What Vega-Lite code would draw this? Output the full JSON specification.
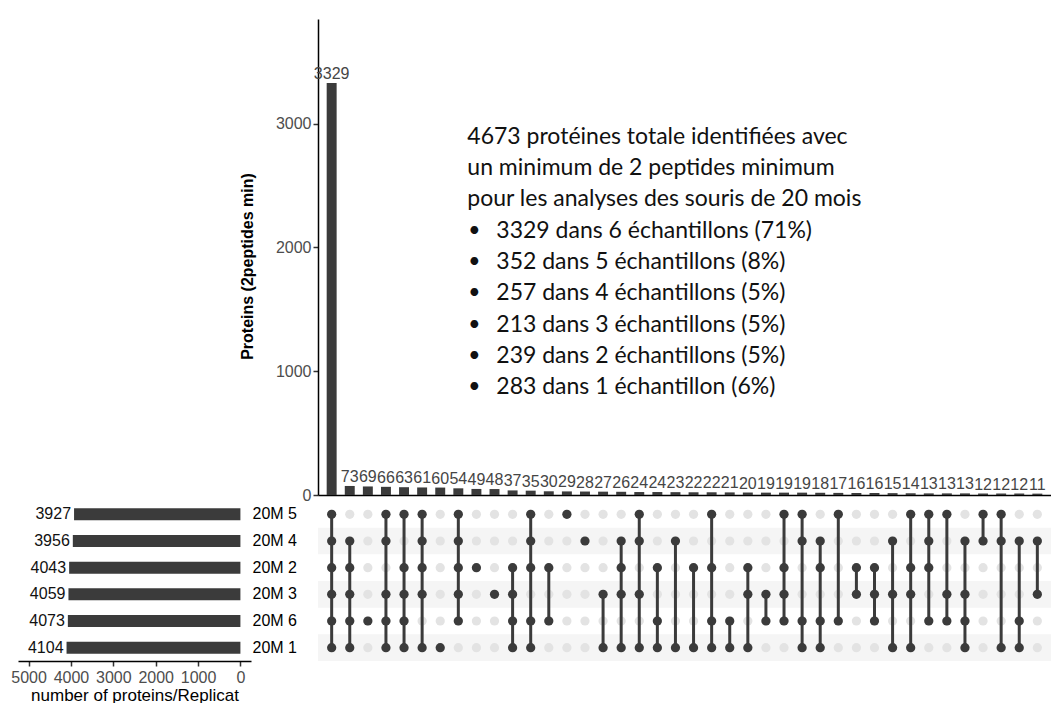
{
  "$schema": "https://vega.github.io/schema/vega-lite/v6.json",
  "background": "white",
  "padding": {"left": 10, "top": 19, "right": 0, "bottom": 0},
  "bounds": "flush",
  "columns": 2,
  "spacing": {"row": 6, "column": 67},
  "config": {
    "view": {"stroke": null},
    "font": "Liberation Sans",
    "axis": {
      "grid": false,
      "labelFont": "Liberation Sans",
      "labelFontSize": 16,
      "labelColor": "#4d4d4d",
      "titleFont": "Liberation Sans",
      "titleFontSize": 16,
      "titleColor": "#000000",
      "domainColor": "#000000",
      "domainWidth": 1.5,
      "tickColor": "#333333",
      "tickWidth": 1.5,
      "tickSize": 5
    }
  },
  "datasets": {
    "sets": [
      {"set": "20M 5", "size": 3927, "row": 0},
      {"set": "20M 4", "size": 3956, "row": 1},
      {"set": "20M 2", "size": 4043, "row": 2},
      {"set": "20M 3", "size": 4059, "row": 3},
      {"set": "20M 6", "size": 4073, "row": 4},
      {"set": "20M 1", "size": 4104, "row": 5}
    ],
    "inter": [
      {"col": 1, "count": 3329, "20M 5": 1, "20M 4": 1, "20M 2": 1, "20M 3": 1, "20M 6": 1, "20M 1": 1},
      {"col": 2, "count": 73, "20M 4": 1, "20M 2": 1, "20M 3": 1, "20M 6": 1, "20M 1": 1},
      {"col": 3, "count": 69, "20M 6": 1},
      {"col": 4, "count": 66, "20M 5": 1, "20M 4": 1, "20M 3": 1, "20M 6": 1, "20M 1": 1},
      {"col": 5, "count": 63, "20M 5": 1, "20M 2": 1, "20M 3": 1, "20M 6": 1, "20M 1": 1},
      {"col": 6, "count": 61, "20M 5": 1, "20M 4": 1, "20M 2": 1, "20M 3": 1, "20M 1": 1},
      {"col": 7, "count": 60, "20M 1": 1},
      {"col": 8, "count": 54, "20M 5": 1, "20M 4": 1, "20M 2": 1, "20M 3": 1, "20M 6": 1},
      {"col": 9, "count": 49, "20M 2": 1},
      {"col": 10, "count": 48, "20M 3": 1},
      {"col": 11, "count": 37, "20M 2": 1, "20M 3": 1, "20M 6": 1, "20M 1": 1},
      {"col": 12, "count": 35, "20M 5": 1, "20M 4": 1, "20M 2": 1, "20M 6": 1, "20M 1": 1},
      {"col": 13, "count": 30, "20M 2": 1, "20M 6": 1},
      {"col": 14, "count": 29, "20M 5": 1},
      {"col": 15, "count": 28, "20M 4": 1},
      {"col": 16, "count": 27, "20M 3": 1, "20M 1": 1},
      {"col": 17, "count": 26, "20M 4": 1, "20M 2": 1, "20M 3": 1, "20M 1": 1},
      {"col": 18, "count": 24, "20M 5": 1, "20M 4": 1, "20M 3": 1, "20M 1": 1},
      {"col": 19, "count": 24, "20M 2": 1, "20M 6": 1, "20M 1": 1},
      {"col": 20, "count": 23, "20M 4": 1, "20M 1": 1},
      {"col": 21, "count": 22, "20M 2": 1, "20M 1": 1},
      {"col": 22, "count": 22, "20M 5": 1, "20M 2": 1, "20M 6": 1, "20M 1": 1},
      {"col": 23, "count": 21, "20M 6": 1, "20M 1": 1},
      {"col": 24, "count": 20, "20M 2": 1, "20M 3": 1, "20M 1": 1},
      {"col": 25, "count": 19, "20M 3": 1, "20M 6": 1},
      {"col": 26, "count": 19, "20M 5": 1, "20M 2": 1, "20M 3": 1, "20M 6": 1},
      {"col": 27, "count": 19, "20M 5": 1, "20M 4": 1, "20M 6": 1, "20M 1": 1},
      {"col": 28, "count": 18, "20M 4": 1, "20M 2": 1, "20M 6": 1, "20M 1": 1},
      {"col": 29, "count": 17, "20M 5": 1, "20M 6": 1},
      {"col": 30, "count": 16, "20M 2": 1, "20M 3": 1},
      {"col": 31, "count": 16, "20M 2": 1, "20M 3": 1, "20M 6": 1},
      {"col": 32, "count": 15, "20M 4": 1, "20M 3": 1, "20M 1": 1},
      {"col": 33, "count": 14, "20M 5": 1, "20M 2": 1, "20M 3": 1, "20M 1": 1},
      {"col": 34, "count": 13, "20M 5": 1, "20M 4": 1, "20M 2": 1, "20M 6": 1},
      {"col": 35, "count": 13, "20M 5": 1, "20M 3": 1, "20M 6": 1},
      {"col": 36, "count": 13, "20M 4": 1, "20M 3": 1, "20M 6": 1, "20M 1": 1},
      {"col": 37, "count": 12, "20M 5": 1, "20M 4": 1},
      {"col": 38, "count": 12, "20M 5": 1, "20M 4": 1, "20M 1": 1},
      {"col": 39, "count": 12, "20M 4": 1, "20M 6": 1, "20M 1": 1},
      {"col": 40, "count": 11, "20M 4": 1, "20M 3": 1}
    ],
    "notes": [
      {"line": 1, "text": "4673 protéines totale identifiées avec", "item": false},
      {"line": 2, "text": "un minimum de 2 peptides minimum", "item": false},
      {"line": 3, "text": "pour les analyses des souris de 20 mois", "item": false},
      {"line": 4, "text": "3329 dans 6 échantillons (71%)", "item": true},
      {"line": 5, "text": "352 dans 5 échantillons (8%)", "item": true},
      {"line": 6, "text": "257 dans 4 échantillons (5%)", "item": true},
      {"line": 7, "text": "213 dans 3 échantillons (5%)", "item": true},
      {"line": 8, "text": "239 dans 2 échantillons (5%)", "item": true},
      {"line": 9, "text": "283 dans 1 échantillon (6%)", "item": true}
    ]
  },
  "concat": [
    {
      "data": {"values": []},
      "mark": {"type": "point", "opacity": 0},
      "width": 10,
      "height": 10
    },
    {
      "width": 733,
      "height": 476,
      "resolve": {"scale": {"y": "independent"}},
      "layer": [
        {
          "data": {"name": "inter"},
          "encoding": {
            "x": {"field": "col", "type": "ordinal", "scale": {"paddingInner": 0.45, "paddingOuter": 0.48},
                  "axis": {"labels": false, "ticks": false, "title": null, "domain": true}},
            "y": {"field": "count", "type": "quantitative", "scale": {"domain": [0, 3845], "nice": false},
                  "axis": {"values": [0, 1000, 2000, 3000], "format": "d", "title": "Proteins (2peptides min)", "titleFontWeight": "bold", "titlePadding": 20, "titleY": 247, "labelPadding": 2}}
          },
          "layer": [
            {"mark": {"type": "bar", "color": "#3b3b3b"}},
            {"mark": {"type": "text", "baseline": "bottom", "dy": -1, "fontSize": 16, "color": "#454545", "font": "Liberation Sans"},
             "encoding": {"text": {"field": "count", "type": "quantitative", "format": "d"}}}
          ]
        },
        {
          "data": {"name": "notes"},
          "encoding": {
            "x": {"datum": 8, "type": "ordinal"},
            "y": {"field": "line", "type": "quantitative", "scale": {"domain": [-2.77, 12.45], "reverse": true, "nice": false, "zero": false}, "axis": null}
          },
          "layer": [
            {"transform": [{"filter": "!datum.item"}],
             "mark": {"type": "text", "align": "left", "baseline": "middle", "dx": 9, "font": "Lato", "fontSize": 23, "color": "#111111"},
             "encoding": {"text": {"field": "text"}}},
            {"transform": [{"filter": "datum.item"}],
             "mark": {"type": "text", "align": "left", "baseline": "middle", "dx": 10, "font": "Lato", "fontSize": 21, "color": "#111111"},
             "encoding": {"text": {"value": "•"}}},
            {"transform": [{"filter": "datum.item"}],
             "mark": {"type": "text", "align": "left", "baseline": "middle", "dx": 38, "font": "Lato", "fontSize": 23, "color": "#111111"},
             "encoding": {"text": {"field": "text"}}}
          ]
        }
      ]
    },
    {
      "data": {"name": "sets"},
      "width": 233,
      "height": 160,
      "encoding": {
        "y": {"field": "set", "type": "nominal",
              "sort": ["20M 5", "20M 4", "20M 2", "20M 3", "20M 6", "20M 1"],
              "scale": {"paddingInner": 0.55, "paddingOuter": 0.275},
              "axis": {"orient": "right", "domain": false, "ticks": false, "labelPadding": 1, "labelColor": "#000000", "title": null}},
        "x": {"field": "size", "type": "quantitative",
              "scale": {"domain": [-250, 5250], "reverse": true, "nice": false, "zero": false},
              "axis": {"values": [0, 1000, 2000, 3000, 4000, 5000], "format": "d", "title": "number of proteins/Replicat", "titleFontSize": 17, "titleFontWeight": "normal", "titlePadding": 2, "labelPadding": 3}}
      },
      "layer": [
        {"mark": {"type": "bar", "color": "#3b3b3b"}, "encoding": {"x2": {"datum": 0}}},
        {"mark": {"type": "text", "align": "right", "baseline": "middle", "dx": -3, "fontSize": 16, "color": "#111111", "font": "Liberation Sans"},
         "encoding": {"text": {"field": "size", "type": "quantitative", "format": "d"}}}
      ]
    },
    {
      "width": 733,
      "height": 160,
      "resolve": {"scale": {"y": "independent"}},
      "layer": [
        {
          "data": {"name": "sets"},
          "transform": [{"filter": "datum.row % 2 == 1"}],
          "mark": {"type": "rect", "color": "#f5f5f5"},
          "encoding": {
            "y": {"field": "set", "type": "nominal",
                  "scale": {"domain": ["20M 5", "20M 4", "20M 2", "20M 3", "20M 6", "20M 1"], "paddingInner": 0, "paddingOuter": 0},
                  "axis": null}
          }
        },
        {
          "data": {"name": "inter"},
          "transform": [
            {"fold": ["20M 5", "20M 4", "20M 2", "20M 3", "20M 6", "20M 1"], "as": ["set", "value"]},
            {"lookup": "set", "from": {"data": {"name": "sets"}, "key": "set", "fields": ["row"]}}
          ],
          "encoding": {
            "x": {"field": "col", "type": "ordinal", "scale": {"paddingInner": 0.45, "paddingOuter": 0.48}, "axis": null}
          },
          "layer": [
            {"mark": {"type": "circle", "size": 85, "opacity": 1, "color": "#e3e3e3"},
             "encoding": {"y": {"field": "row", "type": "quantitative", "scale": {"domain": [-0.5, 5.5], "reverse": true, "nice": false, "zero": false}, "axis": null}}},
            {"transform": [
               {"filter": "datum.value == 1"},
               {"aggregate": [{"op": "min", "field": "row", "as": "r0"}, {"op": "max", "field": "row", "as": "r1"}], "groupby": ["col"]}
             ],
             "mark": {"type": "rule", "color": "#3b3b3b", "strokeWidth": 3},
             "encoding": {"y": {"field": "r0", "type": "quantitative"}, "y2": {"field": "r1"}}},
            {"transform": [{"filter": "datum.value == 1"}],
             "mark": {"type": "circle", "size": 85, "opacity": 1, "color": "#3b3b3b"},
             "encoding": {"y": {"field": "row", "type": "quantitative"}}}
          ]
        }
      ]
    }
  ]
}
